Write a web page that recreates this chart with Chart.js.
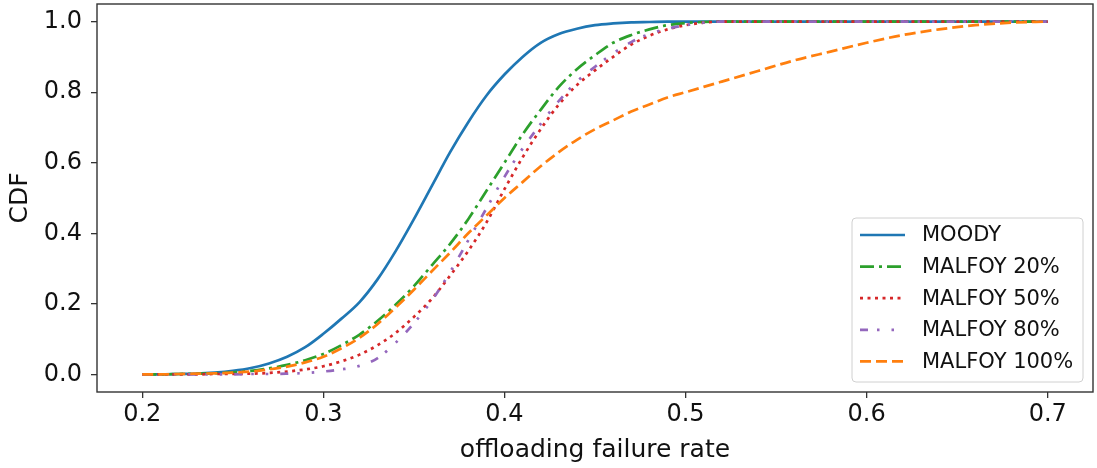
<!DOCTYPE html>
<html>
<head>
<meta charset="utf-8">
<script src="https://cdn.jsdelivr.net/npm/chart.js@4/dist/chart.umd.min.js"></script>
<style>
  body { margin: 0; background: #fff; }
  #wrap { width: 1097px; height: 468px; }
</style>
</head>
<body>
<div id="wrap"><canvas id="cdfChart" width="1097" height="468"></canvas></div>
<script>
const xValues = [0.20, 0.21, 0.22, 0.23, 0.24, 0.25, 0.26, 0.27, 0.28, 0.29,
  0.30, 0.31, 0.32, 0.33, 0.34, 0.35, 0.36, 0.37, 0.38, 0.39,
  0.40, 0.41, 0.42, 0.43, 0.44, 0.45, 0.46, 0.47, 0.48, 0.49,
  0.50, 0.51, 0.52, 0.54, 0.56, 0.58, 0.60, 0.62, 0.64, 0.66, 0.68, 0.70];

const moody = [0, 0, 0.001, 0.002, 0.005, 0.01, 0.018, 0.031, 0.05, 0.077,
  0.115, 0.158, 0.205, 0.27, 0.35, 0.44, 0.535, 0.63, 0.715, 0.79,
  0.85, 0.90, 0.94, 0.965, 0.98, 0.99, 0.995, 0.998, 0.999, 1,
  1, 1, 1, 1, 1, 1, 1, 1, 1, 1, 1, 1];
const malfoy20 = [0, 0, 0.001, 0.002, 0.003, 0.006, 0.01, 0.017, 0.027, 0.04,
  0.058, 0.083, 0.113, 0.152, 0.198, 0.25, 0.31, 0.37, 0.44, 0.52,
  0.60, 0.68, 0.75, 0.815, 0.865, 0.905, 0.94, 0.962, 0.978, 0.99,
  0.996, 0.999, 1, 1, 1, 1, 1, 1, 1, 1, 1, 1];
const malfoy50 = [0, 0, 0, 0, 0.001, 0.001, 0.002, 0.004, 0.008, 0.014,
  0.023, 0.037, 0.056, 0.083, 0.118, 0.163, 0.215, 0.28, 0.35, 0.43,
  0.525, 0.615, 0.695, 0.765, 0.82, 0.862, 0.90, 0.935, 0.96, 0.978,
  0.99, 0.997, 1, 1, 1, 1, 1, 1, 1, 1, 1, 1];
const malfoy80 = [0, 0, 0, 0, 0, 0, 0.001, 0.001, 0.002, 0.004,
  0.008, 0.014, 0.024, 0.046, 0.09, 0.145, 0.21, 0.29, 0.38, 0.47,
  0.56, 0.64, 0.71, 0.775, 0.83, 0.872, 0.91, 0.942, 0.965, 0.98,
  0.99, 0.997, 1, 1, 1, 1, 1, 1, 1, 1, 1, 1];
const malfoy100 = [0, 0, 0.001, 0.002, 0.003, 0.005, 0.008, 0.014, 0.022, 0.034,
  0.05, 0.074, 0.104, 0.143, 0.19, 0.24, 0.293, 0.345, 0.40, 0.45,
  0.50, 0.545, 0.59, 0.63, 0.665, 0.695, 0.72, 0.745, 0.765, 0.785,
  0.80, 0.815, 0.83, 0.86, 0.89, 0.915, 0.94, 0.962, 0.978, 0.99, 0.997, 1];

const seriesLabels = ["MOODY", "MALFOY 20%", "MALFOY 50%", "MALFOY 80%", "MALFOY 100%"];
const xTicks = [0.2, 0.3, 0.4, 0.5, 0.6, 0.7];
const yTicks = [0.0, 0.2, 0.4, 0.6, 0.8, 1.0];

const blue = "#1f77b4";
const orange = "#ff7f0e";
const green = "#2ca02c";
const red = "#d62728";
const purple = "#9467bd";
const axisColor = "#333333";
const font = "'DejaVu Sans', sans-serif";

const toPoints = ys => xValues.map((x, i) => ({x: x, y: ys[i]}));

const styles = [
  {color: blue, dash: []},
  {color: green, dash: [14, 5, 3, 5]},
  {color: red, dash: [3, 4.5]},
  {color: purple, dash: [8, 9, 2.5, 12, 2.5, 12]},
  {color: orange, dash: [11, 5]},
];
const series = [moody, malfoy20, malfoy50, malfoy80, malfoy100];

const datasets = series.map((ys, i) => ({
  label: seriesLabels[i],
  data: toPoints(ys),
  borderColor: styles[i].color,
  backgroundColor: styles[i].color,
  borderDash: styles[i].dash,
  borderWidth: 2.7,
  pointRadius: 0,
  cubicInterpolationMode: "monotone",
  fill: false,
  order: series.length - i,
}));

// box round the plot, like matplotlib spines
const framePlugin = {
  id: "frame",
  afterDatasetsDraw(chart) {
    const {ctx, chartArea: a} = chart;
    ctx.save();
    ctx.strokeStyle = axisColor;
    ctx.lineWidth = 1.4;
    ctx.strokeRect(a.left, a.top, a.right - a.left, a.bottom - a.top);
    ctx.restore();
  }
};

// legend inside the lower right corner
const legendPlugin = {
  id: "innerLegend",
  afterDraw(chart) {
    const {ctx, chartArea: a} = chart;
    const w = 231, h = 164;
    const x0 = a.right - 10 - w, y0 = a.bottom - 10 - h;
    ctx.save();
    ctx.fillStyle = "rgba(255,255,255,0.85)";
    ctx.strokeStyle = "#d0d0d0";
    ctx.lineWidth = 1;
    ctx.beginPath();
    ctx.roundRect(x0, y0, w, h, 4);
    ctx.fill();
    ctx.stroke();
    ctx.font = "21px " + font;
    ctx.textBaseline = "middle";
    ctx.fillStyle = "#111";
    chart.data.datasets.forEach((ds, i) => {
      const yy = y0 + 17 + i * 31.6;
      ctx.beginPath();
      ctx.strokeStyle = ds.borderColor;
      ctx.lineWidth = ds.borderWidth;
      ctx.setLineDash(ds.borderDash);
      ctx.moveTo(x0 + 8, yy);
      ctx.lineTo(x0 + 53, yy);
      ctx.stroke();
      ctx.setLineDash([]);
      ctx.fillText(ds.label, x0 + 70, yy + 1);
    });
    ctx.restore();
  }
};

const opt = {
  responsive: false,
  animation: false,
  layout: { padding: {left: 0, top: 4, right: 4, bottom: 0} },
  plugins: {
    legend: { display: false },
    tooltip: { enabled: false },
  },
  scales: {
    x: {
      type: "linear",
      min: 0.175,
      max: 0.725,
      afterBuildTicks: s => { s.ticks = xTicks.map(v => ({value: v})); },
      afterFit: s => { s.height = 76; s.paddingLeft = 0; s.paddingRight = 0; },
      ticks: {
        callback: v => v.toFixed(1),
        color: "#111",
        font: {family: font, size: 24},
        padding: 2,
        maxRotation: 0,
      },
      grid: { drawOnChartArea: false, drawTicks: true, tickLength: 6, color: axisColor, lineWidth: 1.3 },
      border: { display: false },
      title: {
        display: true,
        text: "offloading failure rate",
        color: "#111",
        font: {family: font, size: 25},
        padding: {top: 0, bottom: 3},
      },
    },
    y: {
      type: "linear",
      min: -0.05,
      max: 1.05,
      afterBuildTicks: s => { s.ticks = yTicks.map(v => ({value: v})); },
      afterFit: s => { s.width = 97; s.paddingTop = 0; s.paddingBottom = 0; },
      ticks: {
        callback: v => v.toFixed(1),
        color: "#111",
        font: {family: font, size: 24},
        padding: 9,
      },
      grid: { drawOnChartArea: false, drawTicks: true, tickLength: 6, color: axisColor, lineWidth: 1.3 },
      border: { display: false },
      title: {
        display: true,
        text: "CDF",
        color: "#111",
        font: {family: font, size: 25},
        padding: {top: 5, bottom: 0},
      },
    },
  },
};

const chart = new Chart(document.getElementById("cdfChart").getContext("2d"), {
  type: "line",
  data: { datasets: datasets },
  options: opt,
  plugins: [framePlugin, legendPlugin],
});
</script>
</body>
</html>
